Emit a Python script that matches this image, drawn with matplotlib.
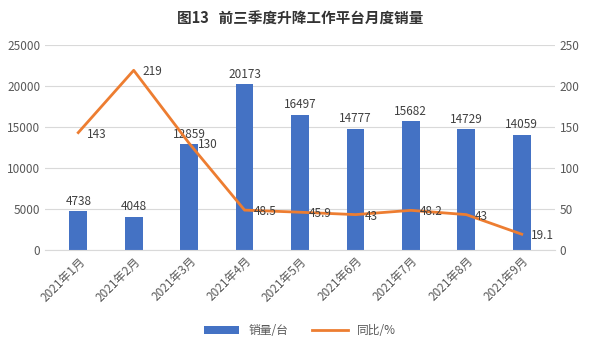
import numpy as np
import matplotlib.pyplot as plt

plt.rcParams['font.family'] = ['Noto Sans CJK SC', 'DejaVu Sans']

months = ['2021年1月', '2021年2月', '2021年3月', '2021年4月', '2021年5月',
          '2021年6月', '2021年7月', '2021年8月', '2021年9月']
sales = [4738, 4048, 12859, 20173, 16497, 14777, 15682, 14729, 14059]
yoy = [143, 219, 130, 48.5, 45.9, 43, 48.2, 43, 19.1]
yoy_text = ['143', '219', '130', '48.5', '45.9', '43', '48.2', '43', '19.1']

fig = plt.figure(figsize=(6, 3.48), dpi=100)
ax = fig.add_axes([0.075, 0.282, 0.85, 0.589])
ax2 = ax.twinx()

x = np.arange(len(months))
bars = ax.bar(x, sales, width=0.32, color='#4472C4', label='销量/台', zorder=2)
line, = ax2.plot(x, yoy, color='#ED7D31', lw=2, label='同比/%', zorder=3)

for xi, v in zip(x, sales):
    ax.text(xi, v + 400, str(v), ha='center', va='bottom', fontsize=8.5, color='#404040')
for xi, v, t in zip(x, yoy, yoy_text):
    ax2.text(xi + 0.16, v - 2, t, ha='left', va='center', fontsize=8.5, color='#404040')

ax.set_ylim(0, 25000)
ax2.set_ylim(0, 250)
ax.set_xlim(-0.6, 8.6)
ax.set_yticks(range(0, 25001, 5000))
ax2.set_yticks(range(0, 251, 50))
ax.set_xticks(x)
ax.set_xticklabels(months, rotation=45, ha='right', rotation_mode='anchor')
ax.grid(axis='y', color='#d9d9d9', lw=0.8, zorder=0)
ax.set_axisbelow(True)

for a in (ax, ax2):
    for s in a.spines.values():
        s.set_visible(False)
    a.tick_params(length=0, labelsize=8.5, colors='#595959')
ax.spines['bottom'].set_visible(True)
ax.spines['bottom'].set_color('#d9d9d9')

fig.text(0.5, 0.945, '图13   前三季度升降工作平台月度销量', ha='center', va='center',
         fontsize=10.5, fontweight='bold', color='#333333')

fig.legend([bars, line], ['销量/台', '同比/%'], loc='center', bbox_to_anchor=(0.5, 0.05),
           ncol=2, frameon=False, fontsize=8.5, handlelength=3, labelcolor='#595959')

fig.savefig('out.png')
